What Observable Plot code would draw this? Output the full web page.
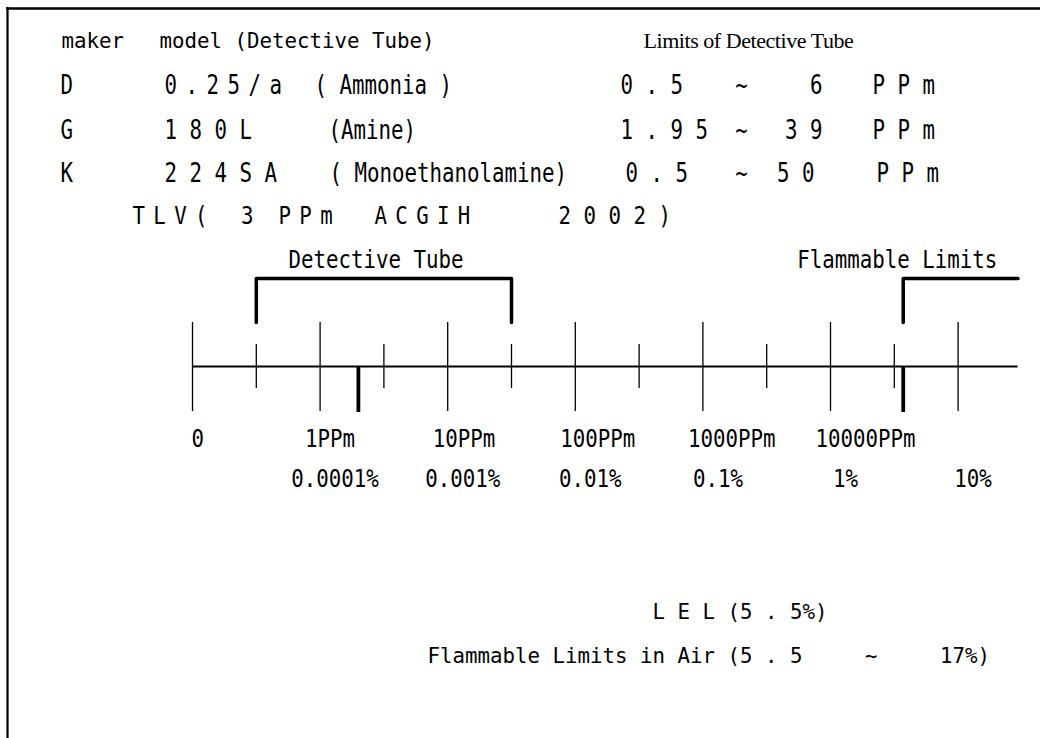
<!DOCTYPE html>
<html><head><meta charset="utf-8">
<script src="https://cdn.jsdelivr.net/npm/d3@7"></script>
<script src="https://cdn.jsdelivr.net/npm/@observablehq/plot@0.6"></script>
<style>
html,body{margin:0;padding:0;background:#fff;overflow:hidden}
#chart{width:1040px;height:738px}
g[aria-description~="tight"] text{word-spacing:-5px}
g[aria-description~="serif"] text{letter-spacing:-0.45px}
</style></head><body><div id="chart"></div>
<script>
// ---------- data ----------
const decadeTicks = [0, 1, 2, 3, 4, 5, 6];
const halfDecadeTicks = [0.5, 1.5, 2.5, 3.5, 4.5, 5.5];
const ppmLabels = ["0", "1PPm", "10PPm", "100PPm", "1000PPm", "10000PPm"];
const percentLabels = ["0.0001%", "0.001%", "0.01%", "0.1%", "1%", "10%"];
const percentAt = [1, 2, 3, 4, 5, 6];
const makers = ["D", "G", "K"];
const models = ["0 . 2 5 / a", "1 8 0 L", "2 2 4 S A"];
const gases = ["( Ammonia )", "(Amine)", "( Monoethanolamine)"];
const lowerLimits = ["0 . 5", "1 . 9 5", "0 . 5"];
const upperLimits = ["6", "3 9", "5 0"];
const units = ["P P m", "P P m", "P P m"];
const detectiveTubeRange = [0.5, 2.5];   // positions on the decade axis as drawn
const tlvAt = 1.3;                        // TLV 3 PPm
const lelAt = 5.57;                       // LEL 5.5 %
const axisEnd = 6.47;
const headerTexts = ["maker", "model (Detective Tube)", "Limits of Detective Tube"];
const tlvTexts = ["T L V (    3   P P m     A C G I H", "2 0 0 2 )"];
const bracketLabels = ["Detective Tube", "Flammable Limits"];
const lelText = "L E L (5 . 5%)";
const flText = "Flammable Limits in Air (5 . 5     ~     17%)";

// ---------- layout ----------
const X0 = 192, DEC = 127.6;
const px = v => (v - X0) / DEC;
const Y = {frame: 8, header: 47, rows: [93, 138, 181], tlv: 223, bLabel: 267,
  bTop: 278, bBottom: 322, axis: 366, minorTop: 344, minorBottom: 388,
  majorTop: 322, majorBottom: 411, thickBottom: 412, ppm: 446, pct: 486, lel: 618, fl: 662};
const COL = {maker: 60, model: 164, gas: [314, 328, 329], lower: [620, 620, 625],
  tilde: 741, upperEnd: [822, 822, 814], unit: [872, 872, 876]};
const MONO = "DejaVu Sans Mono, Liberation Mono, monospace";
const PITCH = 12.5;

const rows = makers.map((m, i) => ({maker: m, model: models[i], gas: gases[i],
  lower: lowerLimits[i], upper: upperLimits[i], unit: units[i], i}));

const head = {fontFamily: MONO, fontSize: 21.5, lineAnchor: "bottom", fill: "black", ariaDescription: "mono"};
const big = {fontFamily: MONO, fontSize: 26, lineAnchor: "bottom", fill: "black", ariaDescription: "mono"};
const mid = {fontFamily: MONO, fontSize: 24, lineAnchor: "bottom", fill: "black", ariaDescription: "mono"};
const foot = {fontFamily: MONO, fontSize: 22, lineAnchor: "bottom", fill: "black", ariaDescription: "mono"};

const chart = Plot.plot({
  width: 1040, height: 738, margin: 0,
  x: {type: "linear", domain: [px(0), px(1040)], range: [0, 1040], axis: null},
  y: {type: "linear", domain: [0, 738], range: [0, 738], axis: null},
  style: {background: "white"},
  marks: [
    // frame (top + left)
    Plot.ruleY([Y.frame], {x1: px(6), x2: px(1040), strokeWidth: 2.5, stroke: "black"}),
    Plot.ruleX([px(7)], {y1: 7, y2: 738, strokeWidth: 2.2, stroke: "black"}),
    // header row
    Plot.text([headerTexts[0]], {...head, x: px(61), y: Y.header, text: d => d, textAnchor: "start"}),
    Plot.text([headerTexts[1]], {...head, x: px(159), y: Y.header, text: d => d, textAnchor: "start"}),
    Plot.text([headerTexts[2]], {x: px(643), y: Y.header, text: d => d, textAnchor: "start", lineAnchor: "bottom",
      fontFamily: "Liberation Serif, Times New Roman, serif", fontSize: 22, ariaDescription: "serif"}),
    // table rows
    Plot.text(rows, {...big, x: px(COL.maker), y: d => Y.rows[d.i], text: "maker", textAnchor: "start"}),
    Plot.text(rows.slice(0, 1), {...big, x: px(COL.model), y: d => Y.rows[d.i], text: "model", textAnchor: "start", ariaDescription: "mono tight"}),
    Plot.text(rows.slice(1), {...big, x: px(COL.model), y: d => Y.rows[d.i], text: "model", textAnchor: "start"}),
    Plot.text(rows, {...big, x: d => px(COL.gas[d.i]), y: d => Y.rows[d.i], text: "gas", textAnchor: "start"}),
    Plot.text(rows, {...big, x: d => px(COL.lower[d.i]), y: d => Y.rows[d.i], text: "lower", textAnchor: "start"}),
    Plot.text(rows, {...big, x: px(COL.tilde), y: d => Y.rows[d.i], text: () => "~", textAnchor: "middle"}),
    Plot.text(rows, {...big, x: d => px(COL.upperEnd[d.i]), y: d => Y.rows[d.i], text: "upper", textAnchor: "end"}),
    Plot.text(rows, {...big, x: d => px(COL.unit[d.i]), y: d => Y.rows[d.i], text: "unit", textAnchor: "start"}),
    // TLV line
    Plot.text([tlvTexts[0]], {...big, fontSize: 25, x: px(132), y: Y.tlv, text: d => d, textAnchor: "start", ariaDescription: "mono tight"}),
    Plot.text([tlvTexts[1]], {...big, fontSize: 25, x: px(558), y: Y.tlv, text: d => d, textAnchor: "start"}),
    // bracket labels
    Plot.text([bracketLabels[0]], {...mid, x: d3.mean(detectiveTubeRange), y: Y.bLabel, text: d => d, textAnchor: "middle", dx: -8}),
    Plot.text([bracketLabels[1]], {...mid, x: lelAt, y: Y.bLabel, text: d => d, textAnchor: "middle", dx: -6}),
    // brackets
    Plot.line([{x: detectiveTubeRange[0], y: Y.bBottom}, {x: detectiveTubeRange[0], y: Y.bTop},
               {x: detectiveTubeRange[1], y: Y.bTop}, {x: detectiveTubeRange[1], y: Y.bBottom}],
      {x: "x", y: "y", stroke: "black", strokeWidth: 3.5, strokeLinecap: "round"}),
    Plot.line([{x: lelAt, y: Y.bBottom}, {x: lelAt, y: Y.bTop}, {x: axisEnd, y: Y.bTop}],
      {x: "x", y: "y", stroke: "black", strokeWidth: 3.5, strokeLinecap: "round"}),
    // axis
    Plot.ruleY([Y.axis], {x1: 0, x2: axisEnd, stroke: "black", strokeWidth: 2.2}),
    Plot.ruleX(decadeTicks, {y1: Y.majorTop, y2: Y.majorBottom, stroke: "black", strokeWidth: 1.3}),
    Plot.ruleX(halfDecadeTicks, {y1: Y.minorTop, y2: Y.minorBottom, stroke: "black", strokeWidth: 1.3}),
    Plot.ruleX([tlvAt, lelAt], {y1: Y.axis, y2: Y.thickBottom, stroke: "black", strokeWidth: 3.8}),
    // tick labels
    Plot.text(ppmLabels.slice(0, 1), {...mid, x: decadeTicks[0], y: Y.ppm, text: d => d, textAnchor: "start", dx: -1}),
    Plot.text(ppmLabels.slice(1), {...mid, x: (d, i) => decadeTicks[i + 1], y: Y.ppm, text: d => d, textAnchor: "start", dx: -15}),
    Plot.text(percentLabels, {...mid, x: (d, i) => percentAt[i], y: Y.pct, text: d => d, textAnchor: "middle", dx: 15}),
    // footnotes
    Plot.text([lelText], {...foot, x: px(652), y: Y.lel, text: d => d, textAnchor: "start"}),
    Plot.text([flText], {...foot, x: px(427), y: Y.fl, text: d => d, textAnchor: "start"})
  ]
});
document.getElementById("chart").append(chart);

// condense the monospaced glyphs to the drawing's character pitch (tall, narrow lettering)
chart.querySelectorAll('g[aria-description~="mono"]').forEach(g => {
  const fs = parseFloat(g.getAttribute("font-size"));
  const factor = PITCH / (0.602 * fs);
  g.querySelectorAll("text").forEach(t => {
    const L = t.getComputedTextLength();
    t.setAttribute("textLength", (L * factor).toFixed(2));
    t.setAttribute("lengthAdjust", "spacingAndGlyphs");
  });
});
</script>
</body></html>
